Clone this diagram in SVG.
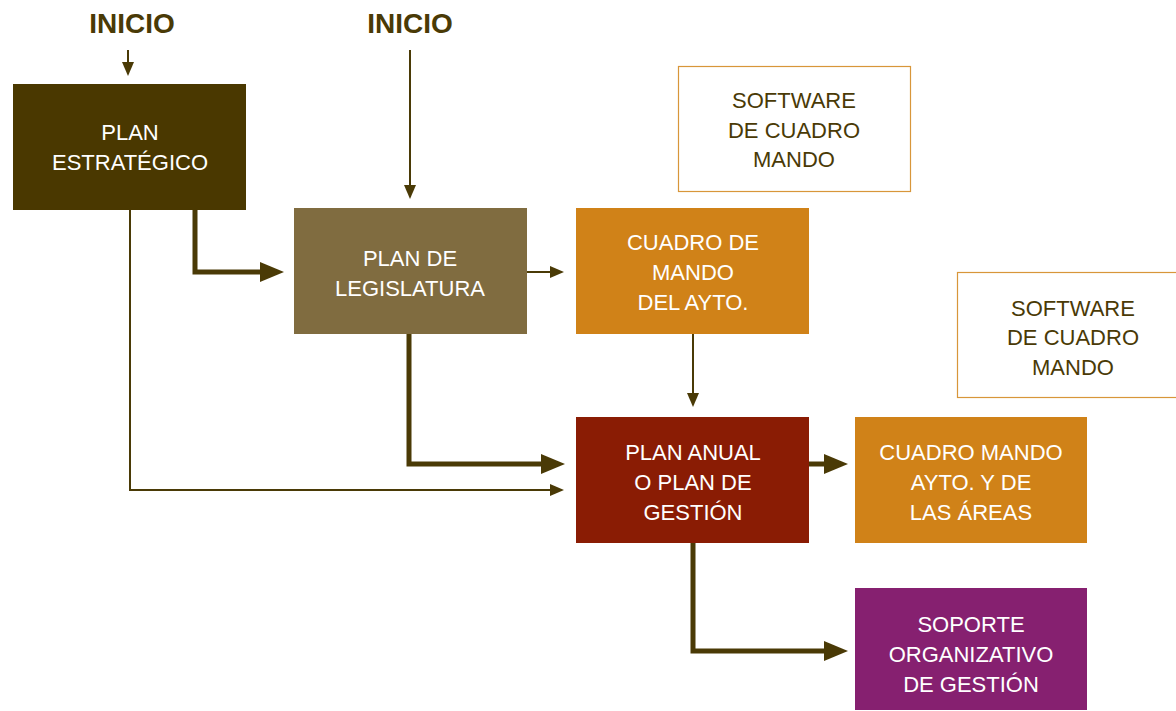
<svg xmlns="http://www.w3.org/2000/svg" width="1176" height="711" viewBox="0 0 1176 711">
<style>
.t{font-family:"Liberation Sans","DejaVu Sans",sans-serif;font-size:22px;text-anchor:middle;fill:#ffffff}
.d{fill:#4a3a06}
.h{font-family:"Liberation Sans","DejaVu Sans",sans-serif;font-size:28px;font-weight:bold;text-anchor:middle;fill:#4a3a06}
.thin{fill:none;stroke:#4a3a06;stroke-width:2}
.thick{fill:none;stroke:#4a3a06;stroke-width:5}
.sw{fill:#ffffff;stroke:#d8963a;stroke-width:1.2}
</style>
<defs>
<marker id="aThin" markerUnits="userSpaceOnUse" markerWidth="14" markerHeight="12" refX="1" refY="6" orient="auto">
<path d="M0,0 L14,6 L0,12 z" fill="#4a3a06"/>
</marker>
<marker id="aThick" markerUnits="userSpaceOnUse" markerWidth="24" markerHeight="20" refX="1" refY="10" orient="auto">
<path d="M0,0 L24,10 L0,20 z" fill="#4a3a06"/>
</marker>
</defs>
<rect width="1176" height="711" fill="#ffffff"/>

<g id="inicio1"><text class="h" x="132" y="33">INICIO</text></g>
<g id="inicio2"><text class="h" x="410" y="33">INICIO</text></g>

<g id="plan-estrategico">
<rect x="13" y="84" width="233" height="126" fill="#4a3800"/>
<text class="t" x="130" y="140">PLAN</text>
<text class="t" x="130" y="170">ESTRATÉGICO</text>
</g>
<g id="plan-legislatura">
<rect x="294" y="208" width="233" height="126" fill="#806c40"/>
<text class="t" x="410" y="266">PLAN DE</text>
<text class="t" x="410" y="296">LEGISLATURA</text>
</g>
<g id="cuadro-mando-ayto">
<rect x="576" y="208" width="233" height="126" fill="#d08218"/>
<text class="t" x="693" y="250">CUADRO DE</text>
<text class="t" x="693" y="280">MANDO</text>
<text class="t" x="693" y="310">DEL AYTO.</text>
</g>
<g id="software1">
<rect class="sw" x="678.5" y="66.5" width="232" height="125"/>
<text class="t d" x="794" y="108">SOFTWARE</text>
<text class="t d" x="794" y="138">DE CUADRO</text>
<text class="t d" x="794" y="167">MANDO</text>
</g>
<g id="software2">
<rect class="sw" x="957.5" y="272.5" width="240" height="125"/>
<text class="t d" x="1073" y="316">SOFTWARE</text>
<text class="t d" x="1073" y="345">DE CUADRO</text>
<text class="t d" x="1073" y="375">MANDO</text>
</g>
<g id="plan-anual">
<rect x="576" y="417" width="233" height="126" fill="#8a1c04"/>
<text class="t" x="693" y="460">PLAN ANUAL</text>
<text class="t" x="693" y="490">O PLAN DE</text>
<text class="t" x="693" y="520">GESTIÓN</text>
</g>
<g id="cuadro-mando-areas">
<rect x="855" y="417" width="232" height="126" fill="#d08218"/>
<text class="t" x="971" y="460">CUADRO MANDO</text>
<text class="t" x="971" y="490">AYTO. Y DE</text>
<text class="t" x="971" y="520">LAS ÁREAS</text>
</g>
<g id="soporte">
<rect x="855" y="588" width="232" height="122" fill="#862070"/>
<text class="t" x="971" y="632">SOPORTE</text>
<text class="t" x="971" y="662">ORGANIZATIVO</text>
<text class="t" x="971" y="692">DE GESTIÓN</text>
</g>

<g id="connectors">
<path class="thin" d="M128,50 V63" marker-end="url(#aThin)"/>
<path class="thin" d="M410,50 V186" marker-end="url(#aThin)"/>
<path class="thick" d="M195,210 V272 H261" marker-end="url(#aThick)"/>
<path class="thin" d="M130,210 V490 H551" marker-end="url(#aThin)"/>
<path class="thin" d="M527,272 H551" marker-end="url(#aThin)"/>
<path class="thick" d="M409,334 V464 H542" marker-end="url(#aThick)"/>
<path class="thin" d="M693,334 V394" marker-end="url(#aThin)"/>
<path class="thick" d="M809,464 H825" marker-end="url(#aThick)"/>
<path class="thick" d="M693,543 V651 H825" marker-end="url(#aThick)"/>
</g>
</svg>
